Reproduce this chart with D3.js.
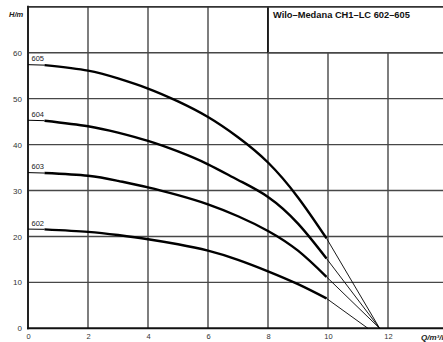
<!DOCTYPE html>
<html>
<head>
<meta charset="utf-8">
<script src="https://cdn.jsdelivr.net/npm/d3@7"></script>
<style>
  html, body { margin: 0; padding: 0; background: #fff; }
  svg { display: block; }
  text { font-family: "Liberation Sans", Arial, sans-serif; }
</style>
</head>
<body>
<svg id="chart" width="443" height="342"></svg>
<script>
// ---- data ----
const title = "Wilo–Medana CH1–LC 602–605";
const xLabel = "Q/m³/h";
const yLabel = "H/m";
const xTicks = [0, 2, 4, 6, 8, 10, 12];
const yTicks = [0, 10, 20, 30, 40, 50, 60];
const seriesNames = ["605", "604", "603", "602"];
const Q = [0, 0.55, 2, 3, 4, 5, 6, 7, 8, 9, 9.95];
const H605 = [57.4, 57.3, 56.1, 54.4, 52.2, 49.4, 46.0, 41.6, 36.1, 28.5, 19.6];
const H604 = [45.3, 45.2, 44.0, 42.6, 40.8, 38.5, 35.7, 32.3, 28.6, 22.8, 15.2];
const H603 = [33.9, 33.8, 33.2, 32.1, 30.7, 29.0, 27.0, 24.4, 21.2, 16.9, 11.2];
const H602 = [21.6, 21.55, 21.0, 20.3, 19.4, 18.3, 16.9, 14.9, 12.4, 9.6, 6.5];
const shutoffQ = [11.72, 11.72, 11.72, 11.33];
const seriesH = [H605, H604, H603, H602];

// ---- layout ----
const svg = d3.select("#chart");
const x = d3.scaleLinear().domain([0, 14]).range([28, 448]);
const y = d3.scaleLinear().domain([0, 70]).range([328.3, 6.8]);
const gridColor = "#474747";

// grid
const grid = svg.append("g");
grid.selectAll("line.v").data(xTicks.filter(d => d > 0)).join("line")
  .attr("x1", d => x(d)).attr("x2", d => x(d))
  .attr("y1", y(0)).attr("y2", y(70))
  .attr("stroke", gridColor).attr("stroke-width", 1.4);
grid.selectAll("line.h").data(yTicks.filter(d => d > 0)).join("line")
  .attr("x1", x(0)).attr("x2", x(14))
  .attr("y1", d => y(d)).attr("y2", d => y(d))
  .attr("stroke", gridColor).attr("stroke-width", 1.4);

// title box (covers grid above 60)
svg.append("rect")
  .attr("x", x(8)).attr("y", y(70))
  .attr("width", x(14) - x(8)).attr("height", y(60) - y(70))
  .attr("fill", "#fff");
svg.append("line")
  .attr("x1", x(8)).attr("x2", x(8)).attr("y1", y(70)).attr("y2", y(60))
  .attr("stroke", "#111").attr("stroke-width", 1.8);
svg.append("line")
  .attr("x1", x(8)).attr("x2", x(14)).attr("y1", y(60)).attr("y2", y(60))
  .attr("stroke", gridColor).attr("stroke-width", 1.5);
svg.append("text")
  .attr("x", x(8) + 5).attr("y", y(70) + 11)
  .attr("font-size", 9.3).attr("font-weight", "bold").attr("fill", "#111")
  .text(title);

// frame: top border, left and bottom axes
svg.append("line")
  .attr("x1", x(0)).attr("x2", x(14)).attr("y1", y(70)).attr("y2", y(70))
  .attr("stroke", "#333").attr("stroke-width", 1.8);
svg.append("line")
  .attr("x1", x(0)).attr("x2", x(0)).attr("y1", y(0) + 1).attr("y2", y(70) - 1)
  .attr("stroke", "#222").attr("stroke-width", 2);
svg.append("line")
  .attr("x1", x(0) - 1).attr("x2", x(14)).attr("y1", y(0)).attr("y2", y(0))
  .attr("stroke", "#111").attr("stroke-width", 2);

// axes labels via d3 axes
const yAxis = svg.append("g")
  .attr("transform", `translate(${x(0) - 1},0)`)
  .call(d3.axisLeft(y).tickValues(yTicks).tickSize(0).tickPadding(5).tickFormat(d3.format("d")));
yAxis.select(".domain").remove();
yAxis.selectAll("text").attr("font-size", 8).attr("fill", "#333")
  .style("font-family", '"Liberation Sans", Arial, sans-serif');

const xAxis = svg.append("g")
  .attr("transform", `translate(0,${y(0) + 1})`)
  .call(d3.axisBottom(x).tickValues(xTicks).tickSize(0).tickPadding(4).tickFormat(d3.format("d")));
xAxis.select(".domain").remove();
xAxis.selectAll("text").attr("font-size", 7.5).attr("fill", "#333")
  .style("font-family", '"Liberation Sans", Arial, sans-serif');

svg.append("text")
  .attr("x", 9).attr("y", 17)
  .attr("font-size", 7.5).attr("font-weight", "bold").attr("font-style", "italic")
  .attr("fill", "#222").text(yLabel);
svg.append("text")
  .attr("x", 421).attr("y", 340)
  .attr("font-size", 8).attr("font-weight", "bold").attr("font-style", "italic")
  .attr("fill", "#222").text(xLabel);

// curves
const line = d3.line().x(d => x(d[0])).y(d => y(d[1])).curve(d3.curveNatural);
const thinLine = d3.line().x(d => x(d[0])).y(d => y(d[1]));
seriesH.forEach((H, i) => {
  const pts = Q.map((q, j) => [q, H[j]]);
  // thin continuation to shut-off
  svg.append("path")
    .attr("d", thinLine([pts[pts.length - 1], [shutoffQ[i], 0]]))
    .attr("fill", "none").attr("stroke", "#000").attr("stroke-width", 0.9);
  // thin start
  svg.append("path")
    .attr("d", thinLine(pts.slice(0, 2)))
    .attr("fill", "none").attr("stroke", "#000").attr("stroke-width", 1);
  // thick operating range
  svg.append("path")
    .attr("d", line(pts.slice(1)))
    .attr("fill", "none").attr("stroke", "#000").attr("stroke-width", 2.4)
    .attr("stroke-linecap", "butt");
  svg.append("text")
    .attr("x", x(0) + 3.5).attr("y", y(H[0]) - 3.5)
    .attr("font-size", 7.5).attr("fill", "#222")
    .text(seriesNames[i]);
});
</script>
</body>
</html>
